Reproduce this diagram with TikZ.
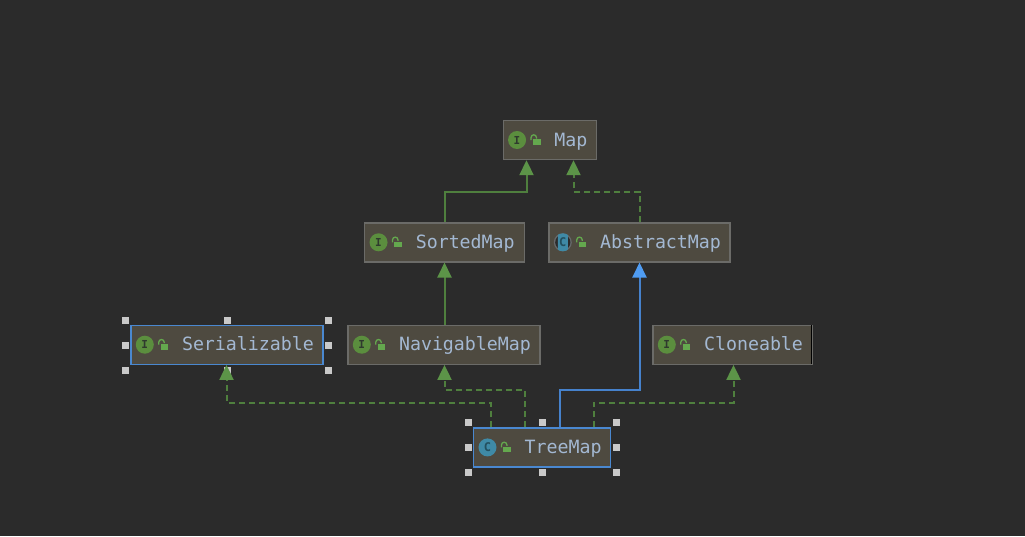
\documentclass[tikz,border=0pt]{standalone}
\usepackage{fontspec}
\setmonofont{DejaVu Sans Mono}
\usetikzlibrary{arrows.meta,calc}
\definecolor{bgc}{HTML}{2B2B2B}
\definecolor{boxfill}{HTML}{4E4A40}
\definecolor{boxline}{HTML}{6B6B68}
\definecolor{selline}{HTML}{4A88D0}
\definecolor{greenl}{HTML}{5C9448}
\definecolor{greenw}{HTML}{4F7F3E}
\definecolor{bluel}{HTML}{4F9CF2}
\definecolor{bluew}{HTML}{4682CC}
\definecolor{txt}{HTML}{A3B8D2}
\definecolor{icong}{HTML}{5B8E3E}
\definecolor{iconb}{HTML}{3F8AA6}
\definecolor{iconr}{HTML}{66696B}
\definecolor{icond}{HTML}{2F3A2E}
\definecolor{iconcd}{HTML}{23505F}
\definecolor{lockg}{HTML}{64A84E}
\definecolor{hand}{HTML}{C9C9C9}
\tikzset{
  x=1pt,y=-1pt,
  umlbox/.style={draw=boxline,fill=boxfill,line width=1.4pt,inner sep=0pt,minimum height=39pt},
  selbox/.style={umlbox,draw=selline},
  boxtext/.style={anchor=base west,inner sep=0pt,text=txt,font=\ttfamily\fontsize{18.27}{20}\selectfont},
  iconi/.style={circle,fill=icong,minimum size=18pt,inner sep=0pt,text=icond,font=\ttfamily\bfseries\fontsize{11}{11}\selectfont},
  iconc/.style={circle,fill=iconb,minimum size=18pt,inner sep=0pt,text=iconcd,font=\ttfamily\bfseries\fontsize{12}{12}\selectfont},
  icona/.style={circle,fill=iconr,minimum size=18pt,inner sep=0pt,text=iconcd,font=\ttfamily\bfseries\fontsize{12}{12}\selectfont,
    path picture={
      \fill[bgc] (path picture bounding box.center) circle[radius=7.6pt];
      \fill[iconb,rounded corners=2pt] ([xshift=-5pt]path picture bounding box.north) rectangle ([xshift=5pt]path picture bounding box.south);
    }},
  handle/.style={rectangle,fill=hand,minimum size=7pt,inner sep=0pt},
  solidedge/.style={draw=greenw,line width=2pt,-{Triangle[width=14pt,length=15pt,color=greenl,fill=greenl]}},
  dashedge/.style={solidedge,dash pattern=on 6.5pt off 3.5pt},
  extedge/.style={draw=bluew,line width=2pt,-{Triangle[width=14pt,length=15pt,color=bluel,fill=bluel]}},
}
% #1 name, #2 box style, #3 centre x, #4 centre y, #5 width, #6 text, #7 icon style, #8 letter
\newcommand{\umlclass}[8]{%
  \node[#2,minimum width=#5pt] (#1) at (#3,#4) {};
  \node[#7] (#1icon) at ($(#1.west)+(14.5,0)$) {#8};
  \fill[lockg] ($(#1.west)+(30.3,-0.7)$) rectangle ($(#1.west)+(38,5)$);
  \draw[lockg,line width=1.3pt] ($(#1.west)+(28.5,0)$) -- ++(0,-2.5) arc[start angle=180,end angle=0,radius=2.7pt] -- ++(0,1);
  \node[boxtext] (#1text) at ($(#1.west)+(51.5,6)$) {#6};
}
\begin{document}
\begin{tikzpicture}
\useasboundingbox (0,0) rectangle (1025,536);
\fill[bgc] (0,0) rectangle (1025,536);

\umlclass{map}{umlbox}{550}{140}{93.5}{Map}{iconi}{I}
\umlclass{sorted}{umlbox}{444.5}{242.3}{159.5}{SortedMap}{iconi}{I}
\umlclass{abstract}{umlbox}{639.5}{242.3}{181}{AbstractMap}{icona}{C}
\umlclass{navigable}{umlbox}{444}{344.7}{192}{NavigableMap}{iconi}{I}
\umlclass{serial}{selbox}{227}{344.7}{192}{Serializable}{iconi}{I}
\umlclass{cloneable}{umlbox}{732.5}{344.7}{159}{Cloneable}{iconi}{I}
\umlclass{treemap}{selbox}{542.2}{447.4}{137}{TreeMap}{iconc}{C}
\draw[black,line width=1pt] ([xshift=-1.4pt,yshift=-0.7pt]cloneable.north east) -- ([xshift=-1.4pt,yshift=0.7pt]cloneable.south east);

% handles of the selected nodes
\node[handle] (s1) at ($(serial.north west)+(-5,-4.5)$) {};
\node[handle] (s2) at ($(serial.north)+(0,-4.5)$) {};
\node[handle] (s3) at ($(serial.north east)+(5,-4.5)$) {};
\node[handle] (s4) at ($(serial.west)+(-5,0.3)$) {};
\node[handle] (s5) at ($(serial.east)+(5,0.3)$) {};
\node[handle] (s6) at ($(serial.south west)+(-5,5.3)$) {};
\node[handle] (s7) at ($(serial.south)+(0,5.3)$) {};
\node[handle] (s8) at ($(serial.south east)+(5,5.3)$) {};
\node[handle] (t1) at ($(treemap.north west)+(-4.5,-4.5)$) {};
\node[handle] (t2) at ($(treemap.north)+(0.3,-4.5)$) {};
\node[handle] (t3) at ($(treemap.north east)+(5,-4.5)$) {};
\node[handle] (t4) at ($(treemap.west)+(-4.5,0.3)$) {};
\node[handle] (t5) at ($(treemap.east)+(5,0.3)$) {};
\node[handle] (t6) at ($(treemap.south west)+(-4.5,5.3)$) {};
\node[handle] (t7) at ($(treemap.south)+(0.3,5.3)$) {};
\node[handle] (t8) at ($(treemap.south east)+(5,5.3)$) {};

% connectors
\draw[solidedge] (sorted.north) |- (526.5,191.5) -- ([xshift=-23.5pt]map.south);
\draw[dashedge] (abstract.north) |- (573.5,191.5) -- ([xshift=23.5pt]map.south);
\draw[solidedge] ([xshift=0.5pt]navigable.north) -- (sorted.south);
\draw[extedge] ([xshift=17.3pt]treemap.north) |- (639.5,389.5) -- (abstract.south);
\draw[dashedge] ([xshift=-17.7pt]treemap.north) |- (444.5,389.5) -- ([xshift=0.5pt]navigable.south);
\draw[dashedge] ([xshift=-51.7pt]treemap.north) |- (226.5,402.5) -- ([xshift=-0.5pt]serial.south);
\draw[dashedge] ([xshift=51.3pt]treemap.north) |- (733.5,402.5) -- ([xshift=1pt]cloneable.south);
\end{tikzpicture}
\end{document}
